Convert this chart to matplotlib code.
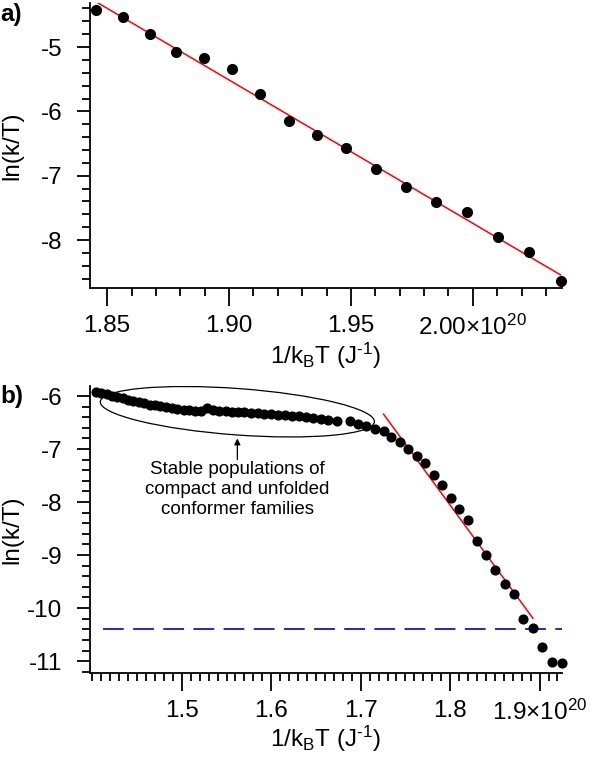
import numpy as np
import matplotlib
matplotlib.use("Agg")
import matplotlib.pyplot as plt
from matplotlib.patches import Ellipse
from matplotlib import transforms
from matplotlib.ticker import FixedLocator, MultipleLocator, FixedFormatter

plt.rcParams['font.family'] = ['Liberation Sans', 'DejaVu Sans']
plt.rcParams['mathtext.fontset'] = 'custom'
plt.rcParams['mathtext.rm'] = 'Liberation Sans'
plt.rcParams['mathtext.it'] = 'Liberation Sans:italic'
plt.rcParams['mathtext.bf'] = 'Liberation Sans:bold'

# ---------------- data (x in units of 1e20 J^-1) ----------------
a_x = [1.8456, 1.8564, 1.8674, 1.8783, 1.8898, 1.9011, 1.9128, 1.9244, 1.9360,
       1.9481, 1.9603, 1.9725, 1.9849, 1.9975, 2.0102, 2.0231, 2.0360]
a_y = [-4.43, -4.53, -4.79, -5.07, -5.17, -5.34, -5.73, -6.15, -6.36,
       -6.57, -6.90, -7.18, -7.41, -7.57, -7.96, -8.19, -8.64]
fit_a_slope = -22.28
fit_a_intercept = 36.82

b_x = [1.404, 1.410, 1.416, 1.422, 1.428, 1.434, 1.440, 1.446, 1.452, 1.458,
       1.464, 1.470, 1.476, 1.482, 1.489, 1.495, 1.502, 1.508, 1.515, 1.522,
       1.528, 1.535, 1.542, 1.549, 1.556, 1.563, 1.570, 1.577, 1.585, 1.592,
       1.600, 1.607, 1.615, 1.623, 1.631, 1.639, 1.647, 1.656, 1.664, 1.673,
       1.688, 1.697, 1.7055, 1.716, 1.7256, 1.734, 1.744, 1.7526, 1.7624, 1.7718,
       1.7817, 1.7911, 1.8009, 1.8103, 1.8198, 1.830, 1.8403, 1.8501, 1.8617, 1.8716,
       1.8819, 1.8925, 1.9028, 1.9143, 1.9251]
b_y = [-5.92, -5.95, -5.97, -5.99, -6.01, -6.04, -6.07, -6.10, -6.12, -6.14,
       -6.16, -6.17, -6.19, -6.21, -6.23, -6.24, -6.26, -6.27, -6.28, -6.29,
       -6.22, -6.26, -6.28, -6.29, -6.30, -6.30, -6.31, -6.32, -6.32, -6.33,
       -6.34, -6.35, -6.36, -6.37, -6.38, -6.40, -6.42, -6.44, -6.45, -6.47,
       -6.48, -6.52, -6.56, -6.63, -6.65, -6.77, -6.86, -6.99, -7.13, -7.27,
       -7.48, -7.68, -7.92, -8.14, -8.34, -8.74, -8.99, -9.28, -9.54, -9.74,
       -10.20, -10.37, -10.74, -11.01, -11.04]
fit_b_slope = -23.06
fit_b_intercept = 33.45
fit_b_range = [1.7256, 1.8925]
threshold_y = -10.40
threshold_x_start = 1.412

a_xticks = [1.85, 1.90, 1.95, 2.00]
a_xticklabels = ['1.85', '1.90', '1.95', r'2.00×10$^{\mathregular{20}}$']
a_yticks = [-5, -6, -7, -8]
b_xticks = [1.5, 1.6, 1.7, 1.8, 1.9]
b_xticklabels = ['1.5', '1.6', '1.7', '1.8', r'1.9×10$^{\mathregular{20}}$']
b_yticks = [-6, -7, -8, -9, -10, -11]

xlabel = r'1/k$_{\mathregular{B}}$T (J$^{\text{-1}}$)'
ylabel = 'ln(k/T)'
annot_text = 'Stable populations of\ncompact and unfolded\nconformer families'

FS = 17.5

fig = plt.figure(figsize=(6, 7.59), dpi=100)
ax_a = fig.add_axes([0.1493, 0.6201, 0.787, 0.3759])
ax_b = fig.add_axes([0.1493, 0.1129, 0.787, 0.3785])


def style(ax):
    for s in ['top', 'right']:
        ax.spines[s].set_visible(False)
    for s in ['left', 'bottom']:
        ax.spines[s].set_linewidth(1.3)
    ax.tick_params(axis='x', which='major', direction='out', length=13, width=1.3,
                   labelsize=FS, pad=6)
    ax.tick_params(axis='x', which='minor', direction='out', length=6, width=1.3)
    ax.tick_params(axis='y', which='major', direction='out', length=9.5, width=1.3,
                   labelsize=FS, pad=10)
    ax.tick_params(axis='y', which='minor', direction='out', length=5.5, width=1.3)


# ---------------- panel a ----------------
style(ax_a)
ax_a.set_xlim(1.8428, 2.0365)
ax_a.set_ylim(-8.751, -4.316)
xs = np.array([a_x[0], a_x[-1]])
ax_a.plot(xs, fit_a_slope * xs + fit_a_intercept, color='#ff0000', lw=1.1, zorder=2)
ax_a.plot(a_x, a_y, 'o', color='black', ms=7, zorder=3, clip_on=False)
ax_a.xaxis.set_major_locator(FixedLocator(a_xticks))
ax_a.xaxis.set_major_formatter(FixedFormatter(a_xticklabels))
ax_a.xaxis.set_minor_locator(MultipleLocator(0.01))
ax_a.yaxis.set_major_locator(FixedLocator(a_yticks))
ax_a.yaxis.set_minor_locator(MultipleLocator(0.2))
ax_a.set_yticklabels([str(v) for v in a_yticks])
ax_a.set_xlabel(xlabel, fontsize=FS)
ax_a.set_ylabel(ylabel, fontsize=FS)
ax_a.xaxis.set_label_coords(0.5, -0.185)
ax_a.yaxis.set_label_coords(-0.141, 0.5)

# ---------------- panel b ----------------
style(ax_b)
ax_b.set_xlim(1.3969, 1.9248)
ax_b.set_ylim(-11.23, -5.811)
ax_b.hlines(threshold_y, threshold_x_start, 1.9248, colors='#1414c8', lw=1.3,
            linestyles=(0, (11.5, 5.2)), zorder=1)
fx = np.array(fit_b_range)
ax_b.plot(fx, fit_b_slope * fx + fit_b_intercept, color='#ff0000', lw=1.1, zorder=2)
ax_b.plot(b_x, b_y, 'o', color='black', ms=6.3, zorder=3, clip_on=False)
ax_b.xaxis.set_major_locator(FixedLocator(b_xticks))
ax_b.xaxis.set_major_formatter(FixedFormatter(b_xticklabels))
ax_b.xaxis.set_minor_locator(MultipleLocator(0.01))
ax_b.yaxis.set_major_locator(FixedLocator(b_yticks))
ax_b.yaxis.set_minor_locator(MultipleLocator(0.2))
ax_b.set_yticklabels([str(v) for v in b_yticks])
ax_b.set_xlabel(xlabel, fontsize=FS)
ax_b.set_ylabel(ylabel, fontsize=FS)
ax_b.xaxis.set_label_coords(0.5, -0.175)
ax_b.yaxis.set_label_coords(-0.141, 0.5)

# ellipse annotation
ecx, ecy = 1.5621, -6.296
trans = fig.dpi_scale_trans + transforms.ScaledTranslation(ecx, ecy, ax_b.transData)
ell = Ellipse((0, 0), width=2 * 1.374, height=2 * 0.232, angle=-4.2,
              fill=False, edgecolor='black', lw=0.9, transform=trans)
ax_b.add_patch(ell)
ax_b.annotate('', xy=(ecx, -6.80), xytext=(ecx, -7.20),
              arrowprops=dict(arrowstyle='-|>', color='black', lw=0.9,
                              mutation_scale=9, shrinkA=0, shrinkB=0))
ax_b.text(ecx, -7.23, annot_text, ha='center', va='top', fontsize=13.5,
          linespacing=1.22)

# panel labels
fig.text(0.0, 1 - 15 / 759, 'a)', fontsize=17.5, fontweight='bold', ha='left', va='center')
fig.text(0.0, 1 - 396 / 759, 'b)', fontsize=17.5, fontweight='bold', ha='left', va='center')

fig.savefig('out.png', dpi=100)
